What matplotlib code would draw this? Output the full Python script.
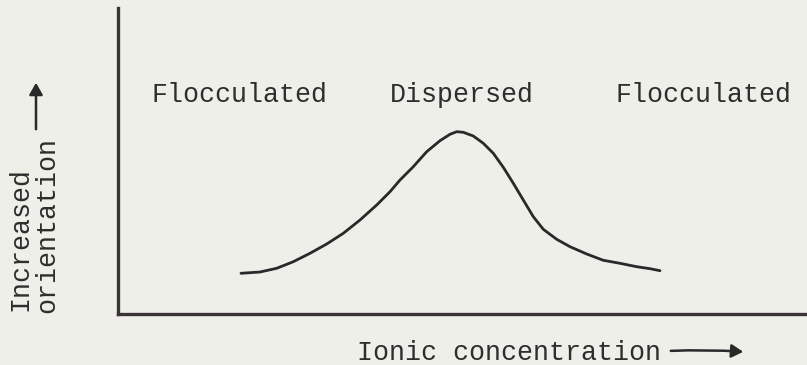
import matplotlib
matplotlib.use("Agg")
import matplotlib.pyplot as plt
from matplotlib.patches import FancyArrowPatch

# Orientation vs. ionic concentration (schematic, arbitrary units)
conc = [123.0, 142.0, 158.7, 175.3, 192.0, 208.7, 225.3, 242.0, 258.7, 272.0,
        282.0, 295.3, 308.7, 322.0, 332.0, 338.7, 345.3, 355.3, 365.3, 375.3,
        385.3, 395.3, 405.3, 415.3, 425.3, 438.7, 452.0, 468.7, 485.3, 502.0,
        518.7, 532.0, 542.0]
orient = [40.7, 42.0, 45.7, 52.3, 60.7, 70.0, 80.7, 94.0, 109.0, 122.3,
          134.0, 147.3, 162.3, 173.3, 179.7, 182.3, 181.7, 178.0, 170.7, 160.7,
          146.7, 130.7, 114.0, 97.3, 84.7, 74.7, 67.3, 60.0, 53.7, 50.7,
          47.3, 45.3, 43.3]

region_labels = ["Flocculated", "Dispersed", "Flocculated"]
region_x = [152, 390, 615]
x_label = "Ionic concentration"
y_label_lines = ["Increased", "orientation"]

bg = "#efefe9"
ink = "#2b2829"

fig = plt.figure(figsize=(8.07, 3.65), dpi=100, facecolor=bg)
ax = fig.add_axes([118 / 807, 51 / 365, 689 / 807, 306 / 365])
ax.set_facecolor(bg)
ax.set_xlim(0, 689)
ax.set_ylim(0, 306)

ax.plot(conc, orient, color=ink, lw=2.0, solid_capstyle="round",
        solid_joinstyle="round")

for s in ("top", "right"):
    ax.spines[s].set_visible(False)
for s in ("left", "bottom"):
    ax.spines[s].set_color("#3a3437")
    ax.spines[s].set_linewidth(2.4)
ax.set_xticks([])
ax.set_yticks([])

font = dict(family="Liberation Mono", color="#2e2e2e", fontsize=19.2)

for lab, px in zip(region_labels, region_x):
    fig.text(px / 807, 1 - 95 / 365, lab, ha="left", va="center", **font)

fig.text(357 / 807, 1 - 353 / 365, x_label, ha="left", va="center", **font)
fig.text(20 / 807, 1 - 311 / 365, y_label_lines[0], rotation=90,
         ha="center", va="bottom", **font)
fig.text(47 / 807, 1 - 313 / 365, y_label_lines[1], rotation=90,
         ha="center", va="bottom", **font)

# direction arrows
fig.add_artist(FancyArrowPatch(
    (668 / 807, 1 - 351 / 365), (746 / 807, 1 - 352 / 365),
    transform=fig.transFigure, arrowstyle="-|>,head_length=7,head_width=4",
    color=ink, lw=1.8, connectionstyle="arc3,rad=-0.03"))
fig.add_artist(FancyArrowPatch(
    (36 / 807, 1 - 132 / 365), (36 / 807, 1 - 80 / 365),
    transform=fig.transFigure, arrowstyle="-|>,head_length=7,head_width=4",
    color=ink, lw=1.8))

fig.savefig("out.png", dpi=100, facecolor=bg)
